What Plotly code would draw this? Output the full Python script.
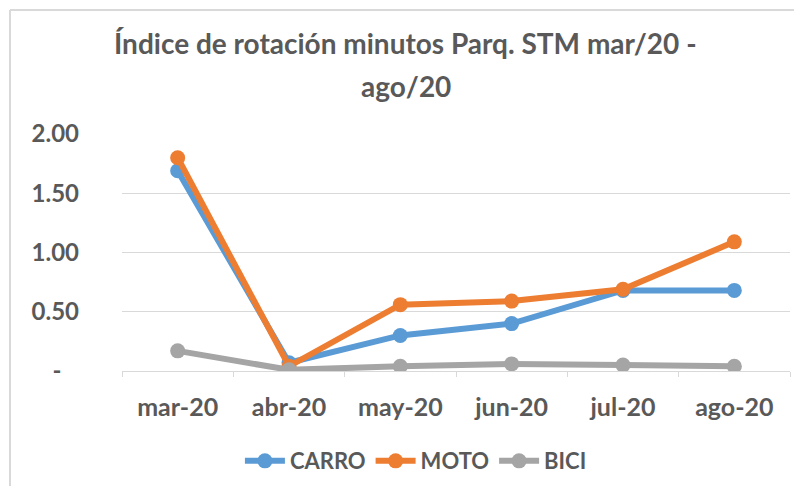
import plotly.graph_objects as go

categories = ["mar-20", "abr-20", "may-20", "jun-20", "jul-20", "ago-20"]
carro = [1.69, 0.07, 0.30, 0.40, 0.68, 0.68]
moto = [1.80, 0.04, 0.56, 0.59, 0.69, 1.09]
bici = [0.17, 0.01, 0.04, 0.06, 0.05, 0.04]
tick_vals = [0, 0.5, 1.0, 1.5, 2.0]
tick_text = ["-\u00a0\u00a0\u00a0", "0.50", "1.00", "1.50", "2.00"]
title_line1 = "Índice de rotación minutos Parq. STM mar/20 -"
title_line2 = "ago/20"

FONT = "Lato"
TXT = "#595959"
OFF = 8  # page body margin offset

W, H = 802 - OFF, 486 - OFF
ML, MR, MT, MB = 122 - OFF, 12, 134 - OFF, 115

fig = go.Figure()
for name, vals, col in [("CARRO", carro, "#5b9bd5"), ("MOTO", moto, "#ed7d31"), ("BICI", bici, "#a5a5a5")]:
    fig.add_trace(go.Scatter(
        x=categories, y=vals, name=name, mode="lines+markers",
        line=dict(color=col, width=6),
        marker=dict(color=col, size=15),
    ))

plot_w = W - ML - MR
plot_h = H - MT - MB
x_left = (10 - OFF - ML) / plot_w
y_top = (H - (10 - OFF) - MB) / plot_h

fig.update_layout(
    width=W, height=H,
    margin=dict(l=ML, r=MR, t=MT, b=MB, autoexpand=False),
    paper_bgcolor="white", plot_bgcolor="white",
    font=dict(family=FONT, color=TXT, size=20, weight="bold"),
    showlegend=True,
    legend=dict(orientation="h", x=0.44, xanchor="center", y=-0.38, yanchor="middle",
                font=dict(family=FONT, size=22, color=TXT, weight="bold"), itemwidth=40,
                tracegroupgap=0),
    xaxis=dict(type="category", showgrid=False, showline=True, linecolor="#d9d9d9", linewidth=1,
               ticks="outside", tickson="boundaries", ticklen=5, tickcolor="#d9d9d9",
               ticklabelstandoff=14,
               tickfont=dict(family=FONT, size=25, color=TXT, weight="bold"), range=[-0.5, 5.5]),
    yaxis=dict(range=[0, 2.0], tickvals=tick_vals, ticktext=tick_text, showgrid=True,
               gridcolor="#d9d9d9", gridwidth=1, zeroline=False, showline=False,
               ticks="", ticklabelstandoff=42,
               tickfont=dict(family=FONT, size=24, color=TXT, weight="bold")),
    annotations=[
        dict(text=title_line1, xref="paper", yref="paper", x=0.425, y=1.0, yshift=91,
             showarrow=False, xanchor="center", yanchor="middle",
             font=dict(family=FONT, size=28, color=TXT, weight="bold")),
        dict(text=title_line2, xref="paper", yref="paper", x=0.425, y=1.0, yshift=48,
             showarrow=False, xanchor="center", yanchor="middle",
             font=dict(family=FONT, size=28, color=TXT, weight="bold")),
    ],
    shapes=[
        dict(type="line", xref="paper", yref="paper", x0=x_left, x1=(W - ML) / plot_w, y0=y_top, y1=y_top,
             line=dict(color="#d9d9d9", width=2)),
        dict(type="line", xref="paper", yref="paper", x0=x_left, x1=x_left, y0=y_top, y1=-MB / plot_h,
             line=dict(color="#d9d9d9", width=2)),
    ],
)

fig.write_html("out.html")
